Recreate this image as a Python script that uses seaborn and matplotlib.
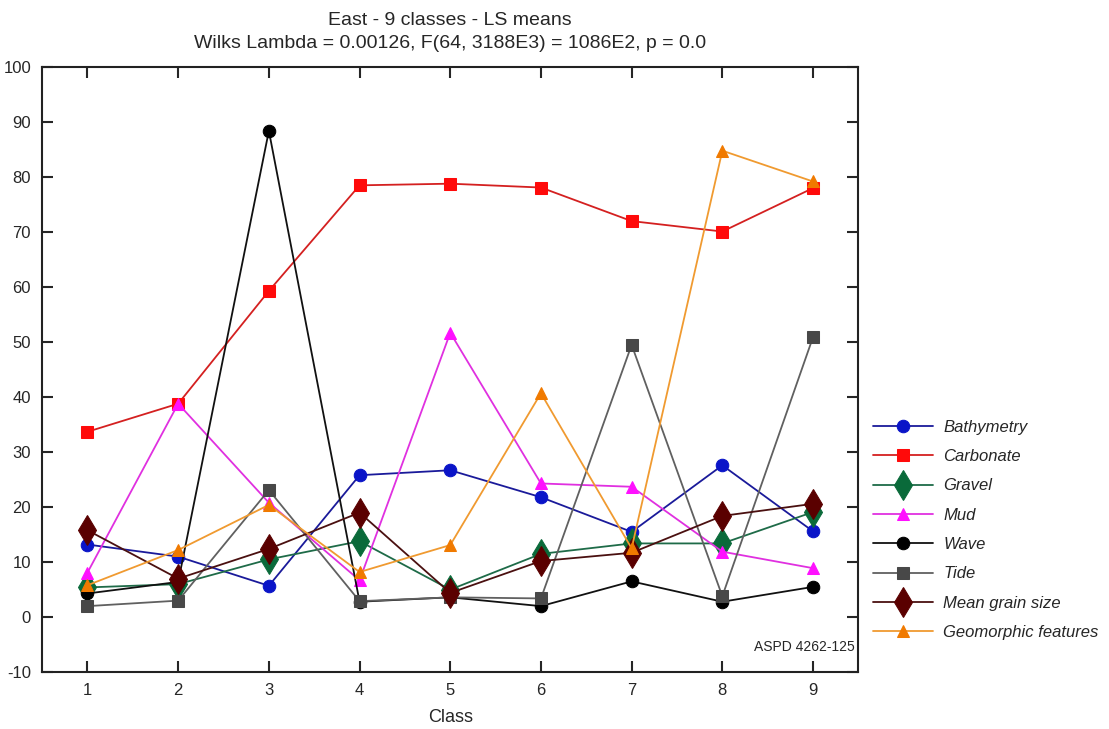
import numpy as np
import pandas as pd
import matplotlib
matplotlib.use('Agg')
import matplotlib.pyplot as plt
import seaborn as sns

classes = [1, 2, 3, 4, 5, 6, 7, 8, 9]

bathymetry = [13.2, 11.0, 5.7, 25.8, 26.7, 21.8, 15.5, 27.6, 15.6]
carbonate = [33.7, 38.8, 59.3, 78.5, 78.8, 78.1, 72.0, 70.1, 78.0]
gravel = [5.4, 6.0, 10.5, 13.8, 5.0, 11.5, 13.4, 13.4, 19.1]
mud = [8.1, 38.8, 20.8, 6.7, 51.7, 24.3, 23.7, 11.9, 8.9]
wave = [4.3, 6.4, 88.4, 2.8, 3.6, 2.0, 6.5, 2.8, 5.5]
tide = [2.0, 3.0, 23.1, 2.9, 3.6, 3.4, 49.5, 3.8, 50.9]
grain = [15.8, 7.0, 12.4, 19.0, 4.4, 10.2, 11.7, 18.4, 20.6]
geomorph = [5.8, 12.2, 20.4, 8.2, 13.1, 40.7, 12.5, 84.8, 79.2]

names = ['Bathymetry', 'Carbonate', 'Gravel', 'Mud', 'Wave', 'Tide',
         'Mean grain size', 'Geomorphic features']
series = [bathymetry, carbonate, gravel, mud, wave, tide, grain, geomorph]

# line colour, marker colour, marker, marker size
styles = {
    'Bathymetry': ('#1a1a9a', '#0a14c8', 'o', 9),
    'Carbonate': ('#d42020', '#ff0a0a', 's', 8),
    'Gravel': ('#1e6b48', '#0a6a3a', 'd', 15),
    'Mud': ('#e030e0', '#ff10ff', '^', 9),
    'Wave': ('#111111', '#000000', 'o', 9),
    'Tide': ('#606060', '#484848', 's', 8),
    'Mean grain size': ('#4a1010', '#5a0000', 'd', 15),
    'Geomorphic features': ('#f09a30', '#f07a00', '^', 9),
}

df = pd.DataFrame({'Class': np.tile(classes, len(names)),
                   'value': np.concatenate(series),
                   'variable': np.repeat(names, len(classes))})

sns.set_style('ticks')
plt.rcParams['font.family'] = ['Liberation Sans', 'DejaVu Sans']
plt.rcParams['axes.unicode_minus'] = False

fig = plt.figure(figsize=(11.09, 7.29), dpi=100)
ax = fig.add_axes([0.038, 0.078, 0.736, 0.830])

for name in names:
    lc, mc, mk, ms = styles[name]
    sub = df[df['variable'] == name]
    sns.lineplot(data=sub, x='Class', y='value', ax=ax, color=lc, lw=1.3,
                 marker=mk, markersize=ms, markerfacecolor=mc,
                 markeredgecolor=mc, label=name)

ax.set_xlim(0.5, 9.5)
ax.set_ylim(-10, 100)
ax.set_xticks(classes)
ax.set_yticks(np.arange(-10, 101, 10))
ax.tick_params(direction='in', length=8, width=1.5, top=True, right=True,
               labelsize=12, pad=8)
for s in ax.spines.values():
    s.set_linewidth(1.5)
    s.set_color('#222222')
ax.set_xlabel('Class', fontsize=13, labelpad=8)
ax.set_ylabel('')
ax.set_title('East - 9 classes - LS means\n'
             'Wilks Lambda = 0.00126, F(64, 3188E3) = 1086E2, p = 0.0',
             fontsize=14, pad=14, linespacing=1.45)
ax.text(0.995, 0.03, 'ASPD 4262-125', transform=ax.transAxes,
        ha='right', va='bottom', fontsize=10)

ax.legend(loc='center left', bbox_to_anchor=(1.0, 0.235), frameon=False,
          handlelength=3.6, handletextpad=0.6, labelspacing=0.86,
          prop={'style': 'italic', 'size': 12})

fig.savefig('out.png', dpi=100)
